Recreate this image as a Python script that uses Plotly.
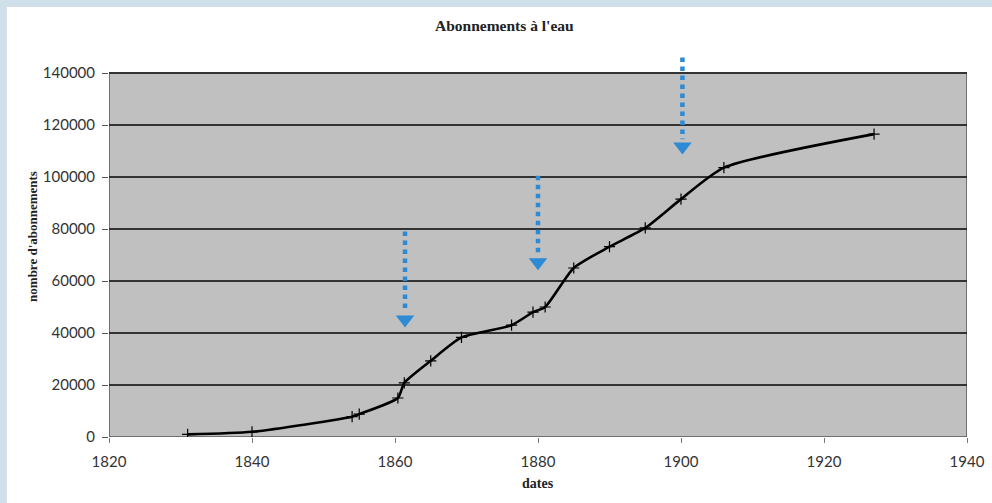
import plotly.graph_objects as go

# data
years = [1831, 1840, 1854, 1855, 1860.4, 1861.3, 1865, 1869.3, 1876.3, 1879.3, 1881, 1885, 1890, 1895, 1900, 1906, 1927]
subs = [1000, 2000, 7800, 8800, 15000, 20800, 29300, 38300, 43000, 48000, 50000, 65000, 73200, 80400, 91500, 103600, 116500]

x_ticks = [1820, 1840, 1860, 1880, 1900, 1920, 1940]
y_ticks = [0, 20000, 40000, 60000, 80000, 100000, 120000, 140000]

arrow_x = [1861.4, 1880, 1900.2]
arrow_top = [79000, 100500, 146000]
arrow_tip = [42000, 64000, 108500]

BLUE = "#2d8ad4"
GRAY = "#c0c0c0"

fig = go.Figure()

fig.add_trace(go.Scatter(
    x=years, y=subs, mode="lines+markers",
    line=dict(color="black", width=2.6, shape="spline", smoothing=0.6),
    marker=dict(symbol="cross-thin", size=8, line=dict(color="black", width=1.2)),
    showlegend=False, hoverinfo="x+y"))

shapes = [
    dict(type="rect", xref="paper", yref="paper", x0=-0.119, x1=1.05, y0=-0.25, y1=1.1026,
         fillcolor="white", line=dict(width=0), layer="below"),
    dict(type="rect", xref="x", yref="y", x0=x_ticks[0], x1=x_ticks[-1], y0=y_ticks[0], y1=y_ticks[-1],
         fillcolor=GRAY, line=dict(color="#555555", width=1.5), layer="below"),
]
for xa, yt, yb in zip(arrow_x, arrow_top, arrow_tip):
    shapes.append(dict(type="line", xref="x", yref="y", x0=xa, x1=xa, y0=yt, y1=yb + 6000,
                       line=dict(color=BLUE, width=4.5, dash="dot"), layer="above"))

fig.add_trace(go.Scatter(
    x=arrow_x, y=[t + 3200 for t in arrow_tip], mode="markers",
    marker=dict(symbol="triangle-down", size=16, color=BLUE),
    showlegend=False, hoverinfo="skip", cliponaxis=False))

TXT = "#333333"
fig.update_layout(
    width=992, height=503,
    margin=dict(l=109, r=25, t=47, b=66),
    paper_bgcolor="#cfe0ea",
    plot_bgcolor="rgba(0,0,0,0)",
    shapes=shapes,
    font=dict(family="Lato", size=14, color=TXT),
    annotations=[
        dict(text="<b>Abonnements à l'eau</b>", xref="paper", yref="paper",
             x=0.4605, y=1.0, yshift=22, xanchor="center", yanchor="middle", showarrow=False,
             font=dict(family="Liberation Serif", size=15.5, color="#222222")),
        dict(text="<b>nombre d'abonnements</b>", xref="paper", yref="paper",
             x=0, xshift=-76, y=0.513, textangle=-90, showarrow=False,
             xanchor="center", yanchor="middle",
             font=dict(family="Liberation Serif", size=13, color="#222222")),
        dict(text="<b>dates</b>", xref="paper", yref="paper",
             x=0.5, y=0, yshift=-46, showarrow=False, xanchor="center", yanchor="middle",
             font=dict(family="Liberation Serif", size=14, color="#222222")),
    ],
    xaxis=dict(range=[1820, 1940], tickvals=x_ticks, ticktext=[str(v) for v in x_ticks],
               showgrid=False, zeroline=False, automargin=False,
               showline=False, ticks="outside", ticklen=5, tickcolor="#777777",
               ticklabelstandoff=6,
               tickfont=dict(family="Lato", size=15, color=TXT)),
    yaxis=dict(range=[0, 150000], tickvals=y_ticks, ticktext=[str(v) for v in y_ticks],
               showgrid=True, gridcolor="#333333", automargin=False,
               gridwidth=1.5, zeroline=False, showline=False, ticks="outside", ticklen=6,
               tickcolor="#555555", ticklabelstandoff=4,
               tickfont=dict(family="Lato", size=15, color=TXT)),
)

fig.write_html("out.html")
